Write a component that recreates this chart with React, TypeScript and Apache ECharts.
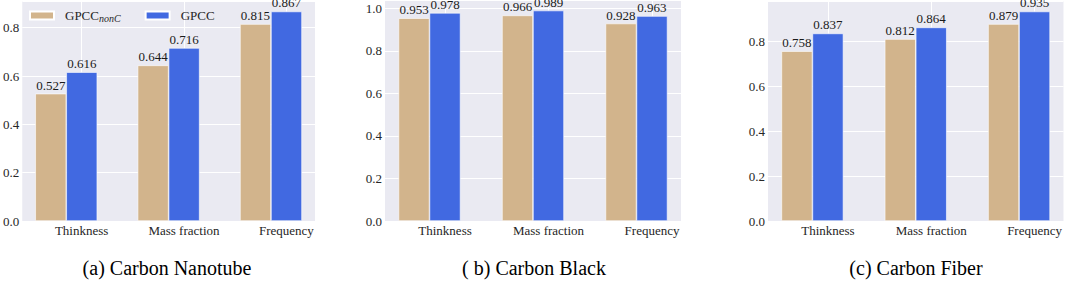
import React, { useEffect, useRef } from "react";
import * as echarts from "echarts";

// ---- data ----
const categories = ["Thinkness", "Mass fraction", "Frequency"];
const seriesNames = ["GPCC_nonC", "GPCC"];
const nanotubeNonC = [0.527, 0.644, 0.815];
const nanotubeGPCC = [0.616, 0.716, 0.867];
const blackNonC = [0.953, 0.966, 0.928];
const blackGPCC = [0.978, 0.989, 0.963];
const fiberNonC = [0.758, 0.812, 0.879];
const fiberGPCC = [0.837, 0.864, 0.935];
const yMaxA = 0.9104;
const yMaxB = 1.0385;
const yMaxC = 0.9818;
const yInterval = 0.2;
const captions = ["(a) Carbon Nanotube", "( b) Carbon Black", "(c) Carbon Fiber"];

const FONT = "Liberation Serif";
const TAN = "#D2B48C";
const BLUE = "#4169E1";
const BG = "#EAEAF2";

const panels = [
  { grid: { left: 18, top: 1, width: 297, height: 220 }, yMax: yMaxA, nonC: nanotubeNonC, gpcc: nanotubeGPCC, cx: 167 },
  { grid: { left: 385, top: 0, width: 296, height: 221 }, yMax: yMaxB, nonC: blackNonC, gpcc: blackGPCC, cx: 534 },
  { grid: { left: 768, top: 1, width: 297, height: 220 }, yMax: yMaxC, nonC: fiberNonC, gpcc: fiberGPCC, cx: 916 },
];

export default function App() {
  const ref = useRef<HTMLDivElement>(null);
  useEffect(() => {
    if (!ref.current) return;
    const chart = echarts.init(ref.current, undefined, { renderer: "svg" });
    const labelPositions = categories.map((_, i) => i + 0.15);
    const grids: any[] = [];
    const xAxes: any[] = [];
    const yAxes: any[] = [];
    const series: any[] = [];
    panels.forEach((p, k) => {
      grids.push({ ...p.grid, show: true, backgroundColor: BG, borderWidth: 0, containLabel: false });
      xAxes.push({
        type: "value",
        gridIndex: k,
        min: -0.43,
        max: 2.43,
        axisLine: { show: false },
        axisTick: { show: false, customValues: labelPositions },
        axisLabel: {
          customValues: labelPositions,
          margin: 3,
          fontFamily: FONT,
          fontSize: 13,
          color: "#262626",
          formatter: (v: number) => categories[Math.round(v - 0.15)] ?? "",
        },
        splitLine: { show: true, lineStyle: { color: "#ffffff", width: 1 } },
      });
      yAxes.push({
        type: "value",
        gridIndex: k,
        min: 0,
        max: p.yMax,
        interval: yInterval,
        axisLine: { show: false },
        axisTick: { show: false },
        axisLabel: {
          margin: 3,
          fontFamily: FONT,
          fontSize: 13,
          color: "#262626",
          formatter: (v: number) => v.toFixed(1),
          showMaxLabel: false,
        },
        splitLine: { show: true, lineStyle: { color: "#ffffff", width: 1 } },
      });
      [p.nonC, p.gpcc].forEach((vals, s) => {
        series.push({
          type: "bar",
          name: seriesNames[s],
          xAxisIndex: k,
          yAxisIndex: k,
          barWidth: 31,
          barGap: "0%",
          data: vals.map((v, i) => [i, v]),
          itemStyle: { color: s === 0 ? TAN : BLUE, borderColor: "#ffffff", borderWidth: 0.6 },
          label: {
            show: true,
            position: "top",
            distance: 2,
            fontFamily: FONT,
            fontSize: 13,
            color: "#1a1a1a",
            formatter: (pp: any) => Number(pp.value[1]).toFixed(3),
          },
        });
      });
    });

    const option: any = {
      animation: false,
      backgroundColor: "#ffffff",
      textStyle: { fontFamily: FONT },
      grid: grids,
      xAxis: xAxes,
      yAxis: yAxes,
      series,
      legend: {
        data: seriesNames,
        left: 29,
        top: 9,
        padding: 0,
        orient: "horizontal",
        icon: "rect",
        itemWidth: 24,
        itemHeight: 8,
        itemGap: 24,
        selectedMode: false,
        textStyle: {
          fontFamily: FONT,
          fontSize: 13,
          color: "#262626",
          rich: {
            m: { fontFamily: FONT, fontSize: 13, color: "#262626", padding: [0, 0, 0, 6] },
            s: { fontFamily: FONT, fontSize: 10, fontStyle: "italic", color: "#262626", padding: [6, 0, 0, 0] },
          },
        },
        formatter: (name: string) => (name === "GPCC_nonC" ? "{m|GPCC}{s|nonC}" : "{m|GPCC}"),
      },
      graphic: panels.map((p, k) => ({
        type: "text",
        x: p.cx,
        y: 268,
        style: {
          text: captions[k],
          fontFamily: FONT,
          fontSize: 20,
          fill: "#000000",
          align: "center",
          verticalAlign: "middle",
        },
      })),
    };
    chart.setOption(option);
    return () => chart.dispose();
  }, []);
  return (
    <div
      ref={ref}
      style={{ position: "fixed", left: 0, top: 0, width: 1065, height: 285 }}
    />
  );
}
